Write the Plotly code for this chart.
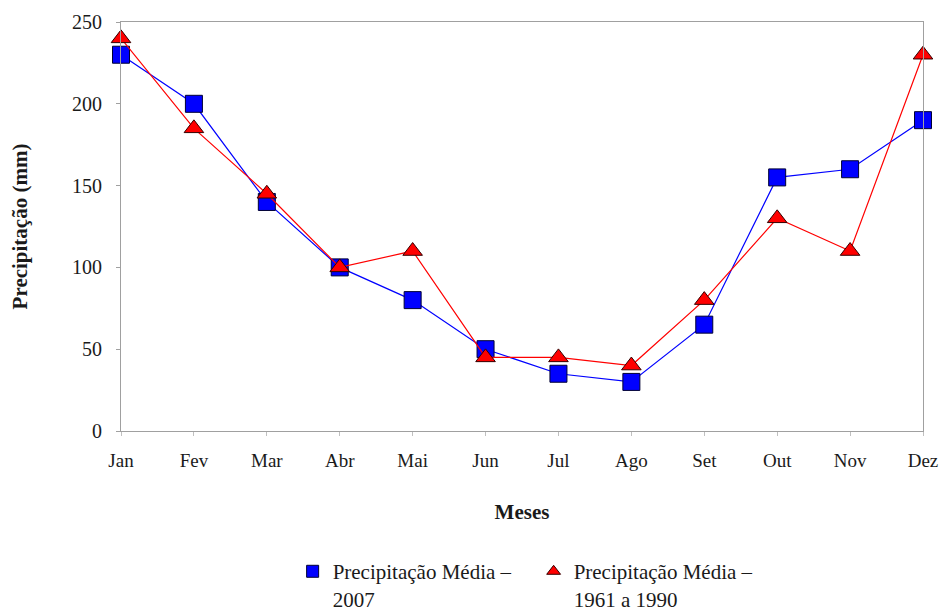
import plotly.graph_objects as go

meses = ["Jan", "Fev", "Mar", "Abr", "Mai", "Jun", "Jul", "Ago", "Set", "Out", "Nov", "Dez"]
prec_2007 = [230, 200, 140, 100, 80, 50, 35, 30, 65, 155, 160, 190]
prec_1961_1990 = [240, 185, 145, 100, 110, 45, 45, 40, 80, 130, 110, 230]
y_ticks = [0, 50, 100, 150, 200, 250]

name_2007 = "Precipitação Média –<br>2007"
name_normal = "Precipitação Média –<br>1961 a 1990"

FONT = "Liberation Serif"
TXT = "#1a1a1a"
x_idx = list(range(len(meses)))

fig = go.Figure()
fig.add_trace(go.Scatter(
    x=x_idx, y=prec_2007, mode="lines+markers", showlegend=False, cliponaxis=False,
    line=dict(color="#0000ff", width=1.2),
    marker=dict(symbol="square", size=17, color="#0000ff", line=dict(color="#000033", width=1)),
))
fig.add_trace(go.Scatter(
    x=x_idx, y=prec_1961_1990, mode="lines+markers", showlegend=False, cliponaxis=False,
    line=dict(color="#ff0000", width=1.2),
    marker=dict(symbol="triangle-up", size=17, color="#ff0000", line=dict(color="#330000", width=1)),
))
# legend-only entries (marker symbols without line)
fig.add_trace(go.Scatter(
    x=[None], y=[None], mode="markers", name=name_2007,
    marker=dict(symbol="square", size=12, color="#0000ff", line=dict(color="#000033", width=1)),
))
fig.add_trace(go.Scatter(
    x=[None], y=[None], mode="markers", name=name_normal,
    marker=dict(symbol="triangle-up", size=12, color="#ff0000", line=dict(color="#330000", width=1)),
))

fig.update_layout(
    width=945, height=611,
    margin=dict(l=121, r=22, t=22, b=180, autoexpand=False),
    paper_bgcolor="white", plot_bgcolor="white",
    font=dict(family=FONT, size=19, color=TXT),
    showlegend=True,
    hovermode=False,
    legend=dict(
        orientation="h", x=0.214, y=-0.46, xanchor="left", yanchor="bottom",
        font=dict(family=FONT, size=21, color=TXT),
        valign="top", itemwidth=30, tracegroupgap=0,
        entrywidth=196,
    ),
    xaxis=dict(
        range=[0, 11], tickmode="array", tickvals=x_idx, ticktext=meses,
        showgrid=False, zeroline=False, showline=True, linecolor="#a0a0a0", linewidth=1,
        mirror=True, ticks="outside", ticklen=4, tickcolor="#c0c0c0",
        ticklabelstandoff=8, automargin=False,
        tickfont=dict(family=FONT, size=19, color=TXT),
        title=dict(text="<b>Meses</b>", font=dict(family=FONT, size=21, color=TXT), standoff=34),
    ),
    yaxis=dict(
        range=[0, 250], tickmode="array", tickvals=y_ticks,
        showgrid=False, zeroline=False, showline=True, linecolor="#a0a0a0", linewidth=1,
        mirror=True, ticks="outside", ticklen=4, tickcolor="#a0a0a0",
        ticklabelstandoff=10, automargin=False,
        tickfont=dict(family=FONT, size=20, color=TXT),
        title=dict(text="<b>Precipitação (mm)</b>", font=dict(family=FONT, size=21, color=TXT), standoff=38),
    ),
)

fig.write_html(
    "out.html",
    config={"displayModeBar": False, "staticPlot": True},
    post_script="document.body.style.margin='0';document.body.style.overflow='hidden';",
)
